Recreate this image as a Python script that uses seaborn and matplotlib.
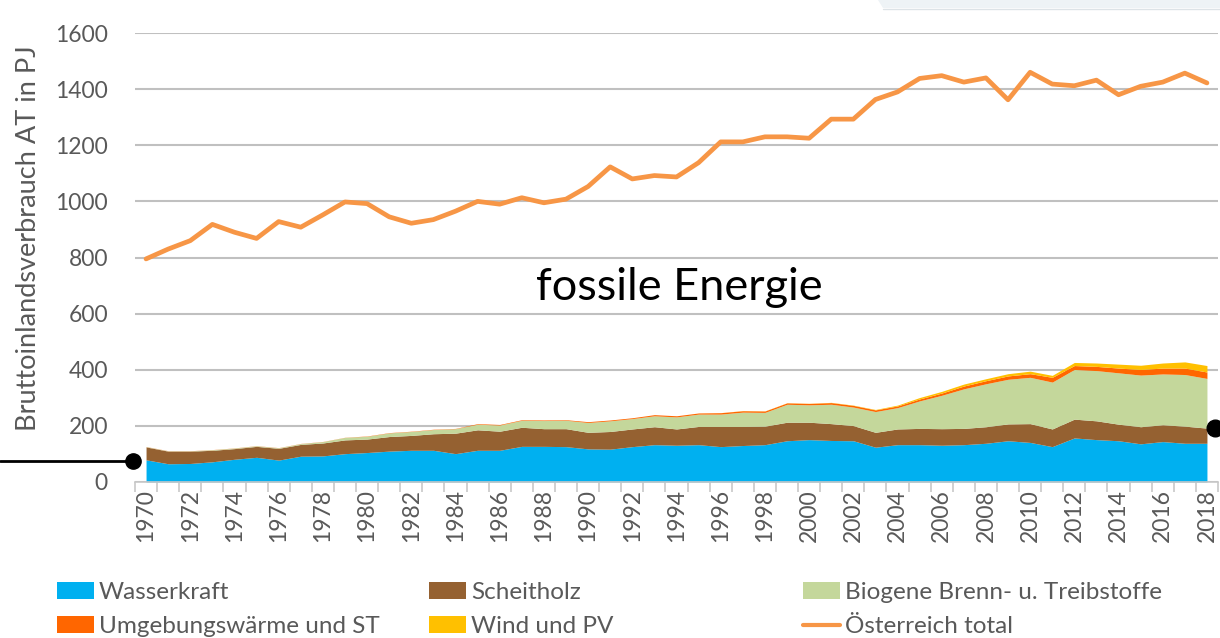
import numpy as np
import matplotlib
matplotlib.use('Agg')
import matplotlib.pyplot as plt
import seaborn as sns
from matplotlib.patches import Patch, Polygon
from matplotlib.lines import Line2D

years = list(range(1970, 2019))

wasserkraft = [79, 65, 66, 72, 81, 88, 78, 92, 93, 101,
               105, 110, 113, 113, 101, 113, 113, 127, 127, 126,
               118, 117, 126, 133, 131, 133, 126, 130, 133, 147,
               151, 148, 147, 124, 133, 133, 131, 133, 138, 147,
               141, 126, 157, 151, 147, 136, 144, 138, 138]
scheitholz = [46, 45, 44, 41, 38, 39, 42, 42, 46, 49,
              48, 52, 53, 59, 73, 73, 68, 68, 63, 64,
              59, 63, 63, 64, 58, 65, 72, 68, 66, 66,
              62, 60, 54, 53, 56, 58, 59, 58, 59, 60,
              67, 63, 67, 67, 59, 61, 60, 61, 54]
biogen = [1, 1, 1, 2, 2, 2, 2, 3, 5, 9,
          10, 13, 14, 15, 16, 20, 22, 25, 29, 30,
          35, 38, 37, 39, 43, 44, 44, 51, 49, 64,
          62, 69, 66, 74, 76, 98, 119, 141, 153, 159,
          165, 167, 177, 179, 183, 184, 181, 184, 177]
umgebung = [0.5, 0.5, 0.5, 0.5, 0.5, 0.5, 0.5, 0.5, 0.5, 0.5,
            1, 1, 1, 1, 1, 2, 2, 2, 2, 2,
            3, 3, 3, 4, 4, 4, 5, 5, 5, 5,
            5, 6, 6, 6, 6, 7, 8, 10, 11, 12,
            13, 17, 14, 15, 17, 20, 21, 23, 23]
wind_pv = [0, 0, 0, 0, 0, 0, 0, 0, 0, 0,
           0, 0, 0, 0, 0, 0, 0, 0, 0, 0,
           0, 0, 0, 0, 0, 0.1, 0.2, 0.5, 0.5, 0.5,
           0.5, 0.8, 1, 1.5, 3, 5, 6, 7, 7, 8,
           9, 7, 11, 12, 14, 15, 18, 22, 23]
oesterreich_total = [795, 830, 860, 918, 890, 868, 928, 908, 952, 998,
                     992, 945, 922, 935, 965, 1000, 990, 1013, 995, 1008,
                     1053, 1123, 1080, 1092, 1087, 1138, 1212, 1212, 1230, 1230,
                     1225, 1293, 1293, 1363, 1390, 1438, 1448, 1425, 1440, 1362,
                     1460, 1418, 1412, 1432, 1380, 1410, 1425, 1457, 1422]

labels = ['Wasserkraft', 'Scheitholz', 'Biogene Brenn- u. Treibstoffe',
          'Umgebungswärme und ST', 'Wind und PV', 'Österreich total']
colors = ['#00B0F0', '#956131', '#C4D79B', '#FF6600', '#FFC000']
line_color = '#F79646'
grey = '#595959'

sns.set_theme(style='white')
plt.rcParams['font.family'] = ['Lato', 'DejaVu Sans']

W, H = 1220, 638
fig = plt.figure(figsize=(12.2, 6.38), dpi=100)
ax = fig.add_axes([135 / W, 1 - 482 / H, (1218 - 135) / W, (482 - 33) / H])

ax.stackplot(years, wasserkraft, scheitholz, biogen, umgebung, wind_pv,
             colors=colors, linewidth=0)
sns.lineplot(x=years, y=oesterreich_total, color=line_color, linewidth=3.4, ax=ax)

ax.set_xlim(1969.5, 2018.5)
ax.set_ylim(0, 1600)
ax.set_yticks(range(0, 1601, 200))
ax.yaxis.grid(True, color='#C0C0C0', linewidth=1.5)
ax.set_axisbelow(True)
ax.set_xticks(range(1970, 2019, 2))
ax.set_xticklabels([str(y) for y in range(1970, 2019, 2)], rotation=90)
ax.set_xticks(np.arange(1969.5, 2019, 1), minor=True)
ax.tick_params(axis='x', which='major', length=0, pad=5, labelsize=16.5, labelcolor=grey)
ax.tick_params(axis='x', which='minor', length=7, width=1.2, color='#C8C8C8', bottom=True)
ax.tick_params(axis='y', length=0, pad=19.5, labelsize=16.5, labelcolor=grey)
for s in ['top', 'right', 'left']:
    ax.spines[s].set_visible(False)
ax.spines['bottom'].set_color('#C8C8C8')
ax.spines['bottom'].set_linewidth(1.2)

fig.text(29 / W, 1 - 238 / H, 'Bruttoinlandsverbrauch AT in PJ', rotation=90,
         ha='center', va='center', fontsize=19.5, color=grey)
fig.text(679 / W, 1 - 287 / H, 'fossile Energie', ha='center', va='center',
         fontsize=32.5, color='black')

# legend in three columns
def patch(c):
    return Patch(facecolor=c, edgecolor='none')

cols = [
    (57, [patch(colors[0]), patch(colors[3])], [labels[0], labels[3]]),
    (429, [patch(colors[1]), patch(colors[4])], [labels[1], labels[4]]),
    (803, [patch(colors[2]), Line2D([], [], color=line_color, linewidth=3)], [labels[2], labels[5]]),
]
for x0, hs, ls in cols:
    fig.legend(hs, ls, loc='upper left', bbox_to_anchor=(x0 / W, 1 - 582 / H),
               frameon=False, fontsize=17.5, labelcolor=grey, borderpad=0,
               borderaxespad=0, handlelength=1.52, handleheight=0.7,
               handletextpad=0.2, labelspacing=0.55)

# annotation markers drawn over the chart
fig.add_artist(Line2D([0, 133 / W], [1 - 461 / H, 1 - 461 / H], color='black',
                      linewidth=2, transform=fig.transFigure))
fig.add_artist(Line2D([133 / W], [1 - 461 / H], marker='o', markersize=11,
                      color='black', transform=fig.transFigure))
fig.add_artist(Line2D([1215 / W], [1 - 428 / H], marker='o', markersize=12,
                      color='black', transform=fig.transFigure))

# banner fragment at top right
fig.add_artist(Polygon([(883 / W, 1 - 8 / H), (878 / W, 1.0), (1.0, 1.0), (1.0, 1 - 8 / H)],
                       closed=True, facecolor='#EEF3F6', edgecolor='none',
                       transform=fig.transFigure))
fig.add_artist(Line2D([883 / W, 1.0], [1 - 8.5 / H, 1 - 8.5 / H], color='#DDE3E7',
                      linewidth=1, transform=fig.transFigure))

fig.savefig('out.png', dpi=100)
